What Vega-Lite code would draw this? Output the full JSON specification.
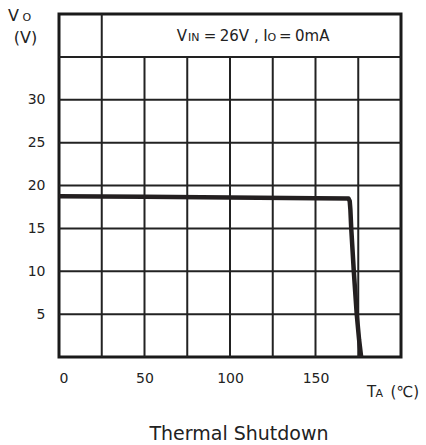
{
  "$schema": "https://vega.github.io/schema/vega-lite/v6.json",
  "width": 342,
  "height": 343,
  "autosize": "none",
  "padding": {"left": 59, "top": 14, "right": 25, "bottom": 88},
  "background": "white",
  "config": {
    "font": "DejaVu Sans",
    "view": {"stroke": "#1a1a1a", "strokeWidth": 3},
    "axis": {"grid": false, "ticks": false, "domain": false, "labelFont": "DejaVu Sans", "labelFontSize": 14, "labelColor": "#222", "title": null}
  },
  "title": {"text": "Thermal Shutdown", "orient": "bottom", "anchor": "middle", "fontSize": 19, "font": "DejaVu Sans", "fontWeight": "normal", "color": "#222", "offset": 25, "dx": 9},
  "datasets": {
    "grid": [
      {"x": 25, "x2": 25, "y": 0, "y2": 40},
      {"x": 50, "x2": 50, "y": 0, "y2": 35},
      {"x": 75, "x2": 75, "y": 0, "y2": 35},
      {"x": 100, "x2": 100, "y": 0, "y2": 35},
      {"x": 125, "x2": 125, "y": 0, "y2": 35},
      {"x": 150, "x2": 150, "y": 0, "y2": 35},
      {"x": 175, "x2": 175, "y": 0, "y2": 35},
      {"x": 0, "x2": 200, "y": 5, "y2": 5},
      {"x": 0, "x2": 200, "y": 10, "y2": 10},
      {"x": 0, "x2": 200, "y": 15, "y2": 15},
      {"x": 0, "x2": 200, "y": 20, "y2": 20},
      {"x": 0, "x2": 200, "y": 25, "y2": 25},
      {"x": 0, "x2": 200, "y": 30, "y2": 30},
      {"x": 0, "x2": 200, "y": 35, "y2": 35}
    ],
    "curve": [
      {"t": 0, "v": 18.75},
      {"t": 50, "v": 18.68},
      {"t": 100, "v": 18.6},
      {"t": 150, "v": 18.52},
      {"t": 169.3, "v": 18.47},
      {"t": 170.0, "v": 18.2},
      {"t": 170.4, "v": 17.2},
      {"t": 170.9, "v": 15},
      {"t": 172.4, "v": 10},
      {"t": 174.1, "v": 5},
      {"t": 175.5, "v": 2},
      {"t": 176.7, "v": 0}
    ],
    "bigText": [
      {"x": 68.8, "y": 36.9, "t": "V"},
      {"x": 84.6, "y": 36.9, "t": "="},
      {"x": 94.0, "y": 36.9, "t": "26V"},
      {"x": 114.0, "y": 36.9, "t": ","},
      {"x": 119.5, "y": 36.9, "t": "I"},
      {"x": 128.7, "y": 36.9, "t": "="},
      {"x": 138.0, "y": 36.9, "t": "0mA"},
      {"x": 180.1, "y": -4.68, "t": "T"},
      {"x": 193.9, "y": -4.68, "t": "(℃)"}
    ],
    "smallText": [
      {"x": 75.5, "y": 36.9, "t": "IN"},
      {"x": 122.0, "y": 36.9, "t": "O"},
      {"x": 185.1, "y": -4.68, "t": "A"},
      {"x": -21.3, "y": 39.13, "t": "O"}
    ],
    "axisTitle": [
      {"x": -29.8, "y": 39.13, "t": "V"},
      {"x": -26.4, "y": 36.6, "t": "(V)"}
    ]
  },
  "layer": [
    {
      "data": {"name": "grid"},
      "mark": {"type": "rule", "stroke": "#222", "strokeWidth": 2},
      "encoding": {
        "x": {"field": "x", "type": "quantitative", "scale": {"domain": [0, 200], "nice": false}, "axis": {"values": [0, 50, 100, 150], "labelPadding": 14}},
        "x2": {"field": "x2"},
        "y": {"field": "y", "type": "quantitative", "scale": {"domain": [0, 40], "nice": false}, "axis": {"values": [5, 10, 15, 20, 25, 30], "labelPadding": 14}},
        "y2": {"field": "y2"}
      }
    },
    {
      "data": {"name": "curve"},
      "mark": {"type": "line", "stroke": "#231f20", "strokeWidth": 4.5, "strokeJoin": "round", "clip": false},
      "encoding": {
        "x": {"field": "t", "type": "quantitative"},
        "y": {"field": "v", "type": "quantitative"}
      }
    },
    {
      "data": {"name": "bigText"},
      "mark": {"type": "text", "align": "left", "baseline": "alphabetic", "fontSize": 15, "font": "DejaVu Sans", "color": "#222"},
      "encoding": {
        "x": {"field": "x", "type": "quantitative"},
        "y": {"field": "y", "type": "quantitative"},
        "text": {"field": "t"}
      }
    },
    {
      "data": {"name": "smallText"},
      "mark": {"type": "text", "align": "left", "baseline": "alphabetic", "fontSize": 11, "font": "DejaVu Sans", "color": "#222"},
      "encoding": {
        "x": {"field": "x", "type": "quantitative"},
        "y": {"field": "y", "type": "quantitative"},
        "text": {"field": "t"}
      }
    },
    {
      "data": {"name": "axisTitle"},
      "mark": {"type": "text", "align": "left", "baseline": "alphabetic", "fontSize": 16, "font": "DejaVu Sans", "color": "#222"},
      "encoding": {
        "x": {"field": "x", "type": "quantitative"},
        "y": {"field": "y", "type": "quantitative"},
        "text": {"field": "t"}
      }
    }
  ]
}
